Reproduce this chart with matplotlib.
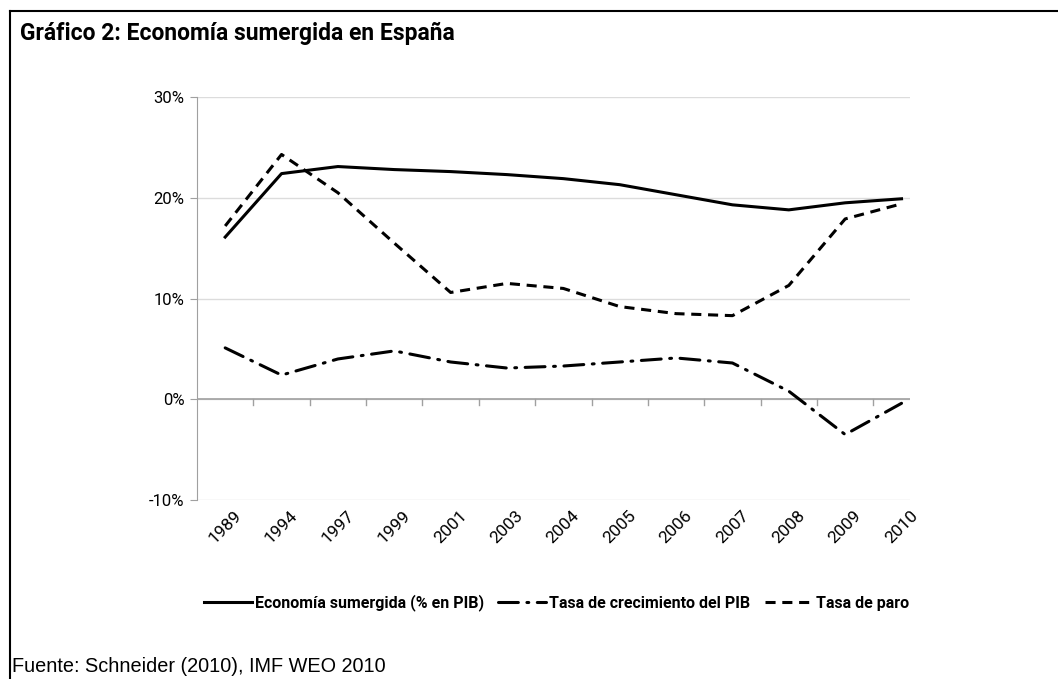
import matplotlib
matplotlib.use("Agg")
import matplotlib.pyplot as plt
from matplotlib.ticker import PercentFormatter, FixedLocator
from matplotlib.lines import Line2D

# ------------------------------------------------------------
# Datos
# ------------------------------------------------------------
anios = ["1989", "1994", "1997", "1999", "2001", "2003", "2004",
         "2005", "2006", "2007", "2008", "2009", "2010"]

economia_sumergida = [16.1, 22.4, 23.1, 22.8, 22.6, 22.3, 21.9,
                      21.3, 20.3, 19.3, 18.8, 19.5, 19.9]
crecimiento_pib = [5.1, 2.4, 4.0, 4.8, 3.7, 3.1, 3.3,
                   3.7, 4.1, 3.6, 0.8, -3.5, -0.4]
tasa_paro = [17.2, 24.3, 20.5, 15.5, 10.6, 11.5, 11.0,
             9.2, 8.5, 8.3, 11.3, 17.9, 19.4]

# ------------------------------------------------------------
# Estilo general
# ------------------------------------------------------------
plt.rcParams["font.family"] = ["Roboto", "DejaVu Sans"]
plt.rcParams["axes.unicode_minus"] = False

fig = plt.figure(figsize=(10.58, 6.79), dpi=100)
ax = fig.add_axes([0.1862, 0.2636, 0.8601 - 0.1862, 0.8571 - 0.2636])

x = list(range(len(anios)))

ax.plot(x, economia_sumergida, color="black", lw=2.2,
        solid_joinstyle="round", label="Economía sumergida (% en PIB)")
ax.plot(x, crecimiento_pib, color="black", lw=2.2,
        linestyle=(0, (6.5, 2.8, 0.6, 2.8)), dash_capstyle="round",
        label="Tasa de crecimiento del PIB")
ax.plot(x, tasa_paro, color="black", lw=2.2,
        linestyle=(0, (3.3, 2.2)),
        label="Tasa de paro")

# ------------------------------------------------------------
# Ejes
# ------------------------------------------------------------
ax.set_xlim(-0.5, 12.15)
ax.set_ylim(-10, 30)
ax.yaxis.set_major_locator(FixedLocator([-10, 0, 10, 20, 30]))
ax.yaxis.set_major_formatter(PercentFormatter(decimals=0))
ax.grid(axis="y", color="#dcdcdc", lw=1)
ax.set_axisbelow(True)

for lado in ["top", "right", "bottom"]:
    ax.spines[lado].set_visible(False)
ax.spines["left"].set_color("#a0a0a0")
ax.axhline(0, color="#a0a0a0", lw=1.2, zorder=1)

# marcas entre categorías sobre la línea del 0%
for xi in [i + 0.5 for i in range(12)]:
    ax.plot([xi, xi], [0, -0.6], color="#a0a0a0", lw=1, clip_on=False, zorder=1)

ax.tick_params(axis="y", length=5, color="#a0a0a0", labelsize=12, pad=4)
ax.set_xticks(x)
ax.set_xticklabels(anios, rotation=45, fontsize=12.5)
ax.tick_params(axis="x", length=0, pad=6)
for lbl in ax.get_xticklabels():
    lbl.set_ha("center")
    lbl.set_va("top")

# ------------------------------------------------------------
# Leyenda
# ------------------------------------------------------------
ax.legend(loc="center", bbox_to_anchor=(0.504, -0.255), ncol=3, frameon=False,
          handlelength=3.0, handletextpad=0.2, columnspacing=0.9,
          prop={"family": ["Roboto", "DejaVu Sans"], "weight": "bold", "size": 11.5})

# ------------------------------------------------------------
# Títulos y marco
# ------------------------------------------------------------
fig.text(20 / 1058, 1 - 33 / 679, "Gráfico 2: Economía sumergida en España",
         fontsize=16.5, fontweight="bold", va="center", ha="left")
fig.text(12 / 1058, 1 - 667 / 679, "Fuente: Schneider (2010), IMF WEO 2010",
         fontsize=14.3, va="center", ha="left", family=["Liberation Sans", "DejaVu Sans"])

fig.add_artist(Line2D([10 / 1058, 1.0], [1 - 11 / 679, 1 - 11 / 679],
                      color="black", lw=1.5, transform=fig.transFigure))
fig.add_artist(Line2D([10 / 1058, 10 / 1058], [1 - 11 / 679, 0.0],
                      color="black", lw=1.5, transform=fig.transFigure))

fig.savefig("out.png", dpi=100)
